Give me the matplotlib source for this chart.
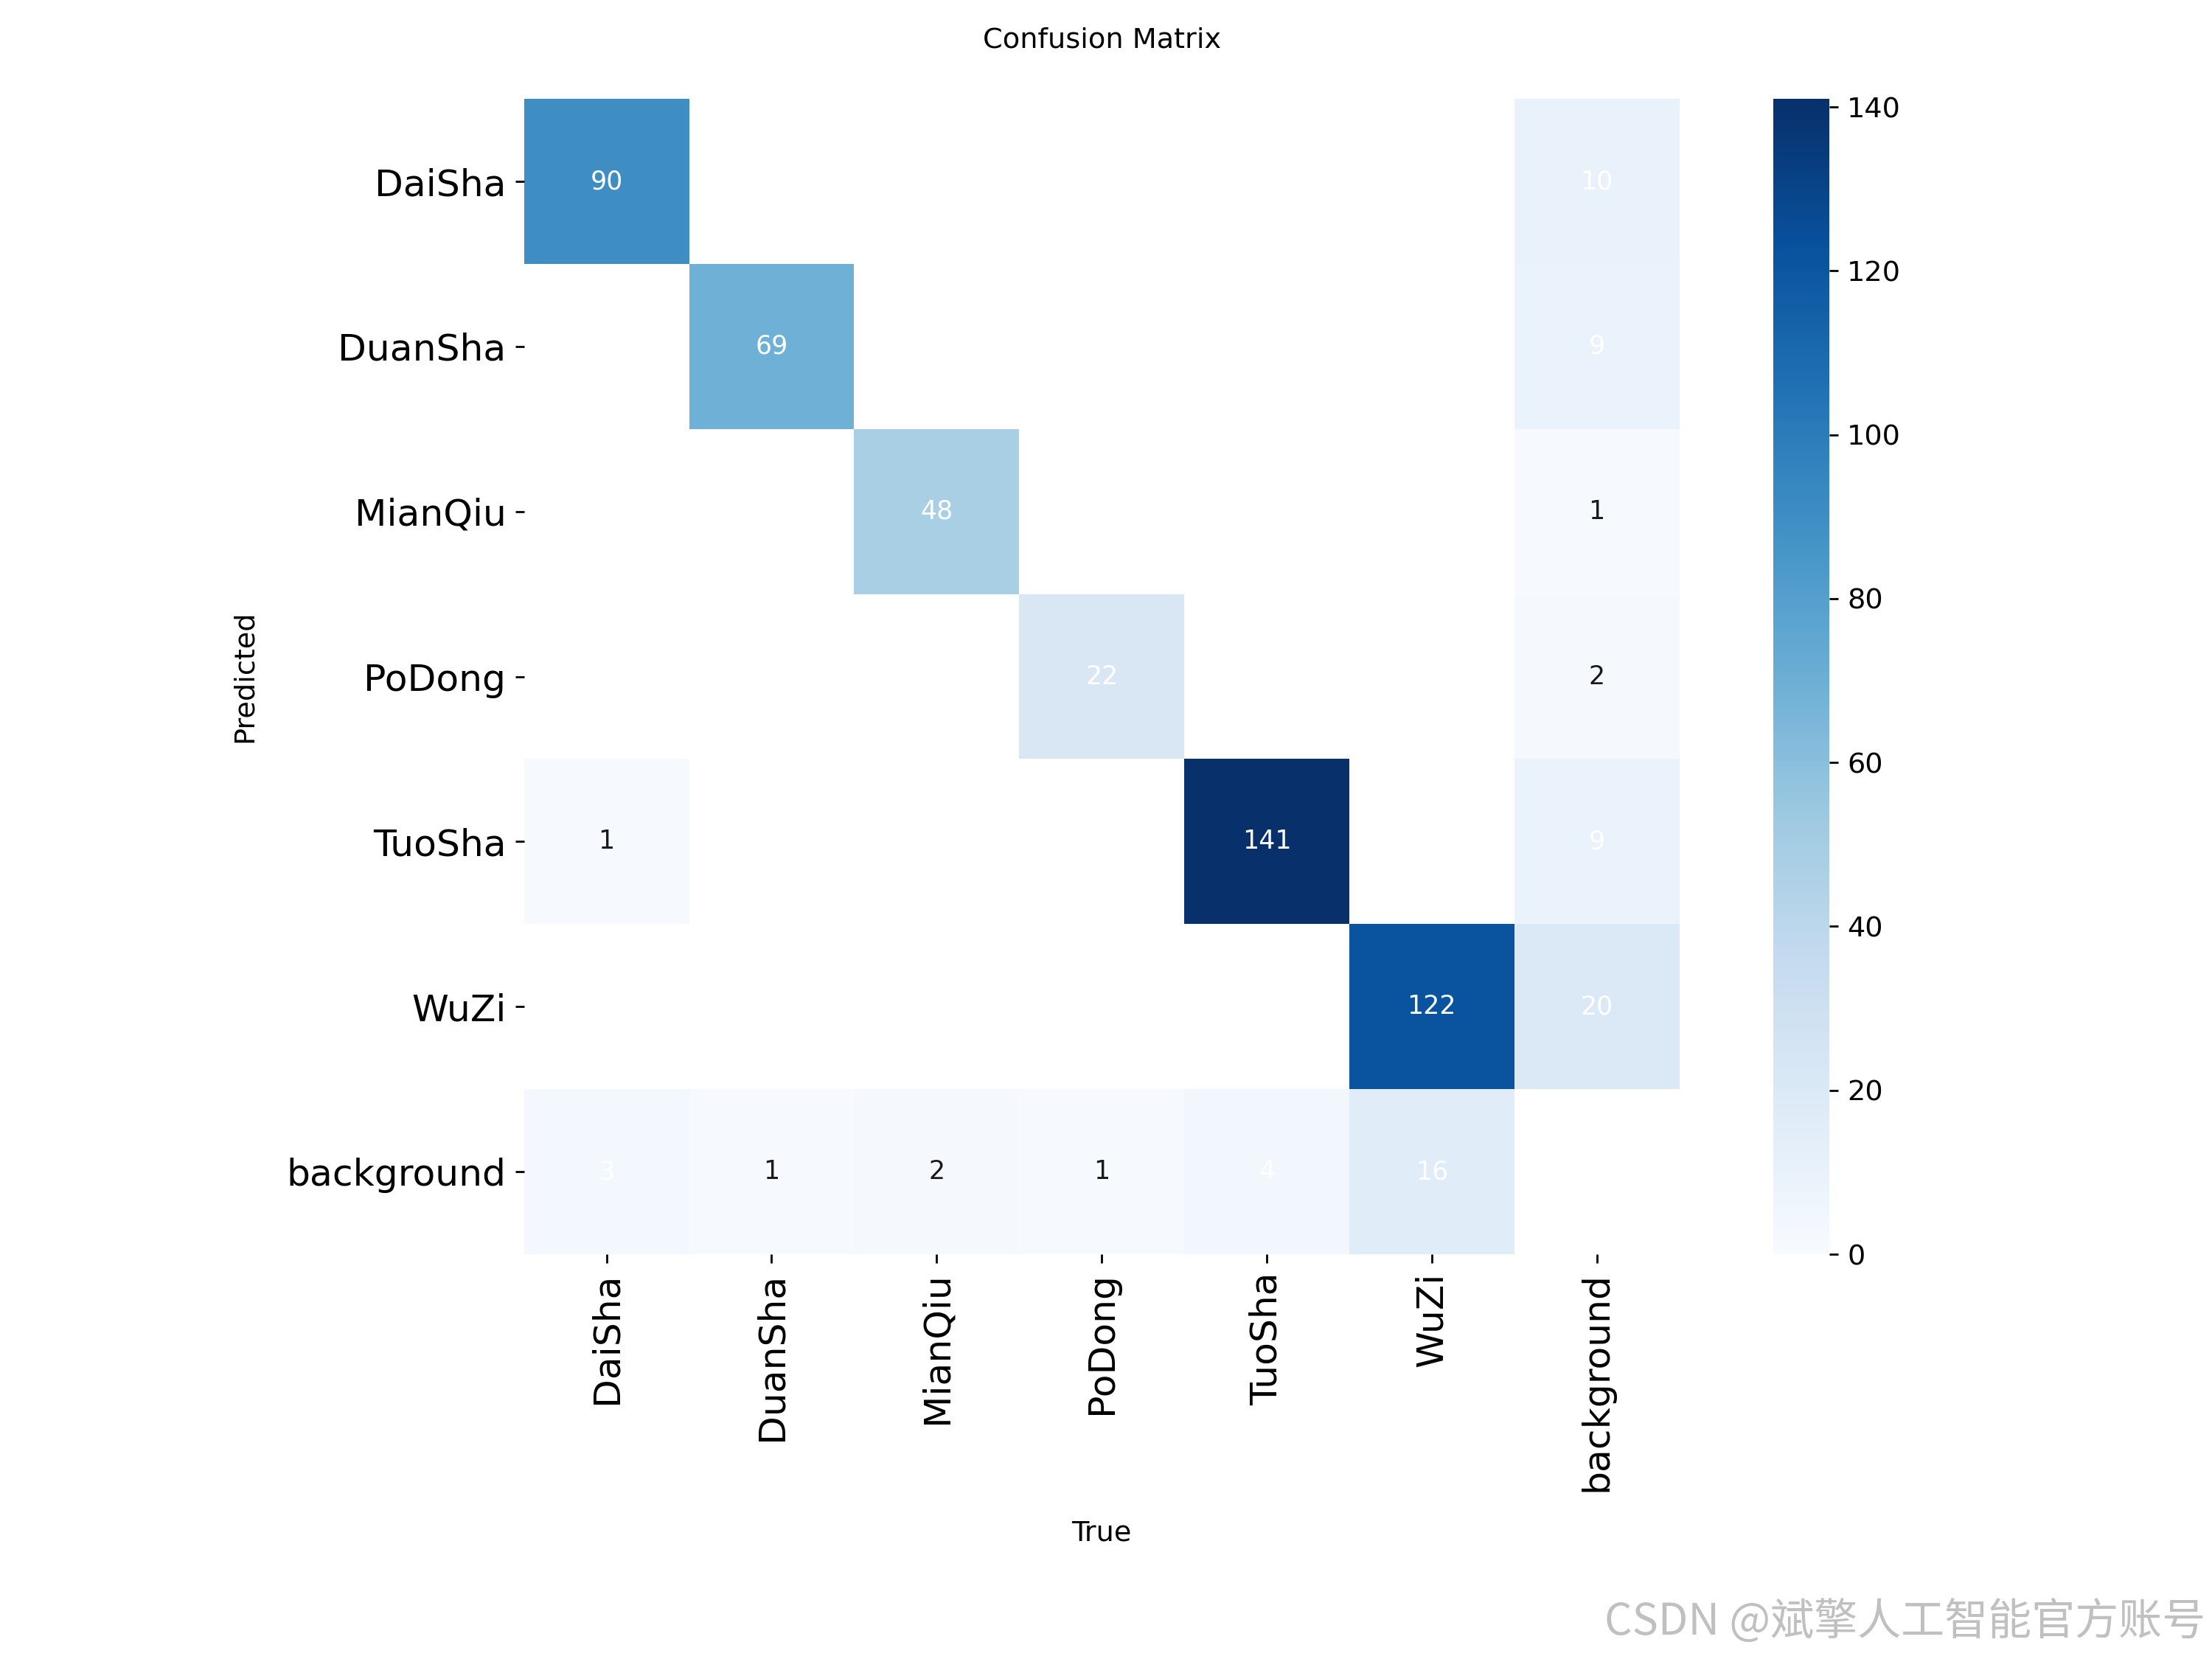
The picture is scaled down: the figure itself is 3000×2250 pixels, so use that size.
import numpy as np
import matplotlib
matplotlib.use('Agg')
import matplotlib.pyplot as plt
import seaborn as sns

labels = ['DaiSha', 'DuanSha', 'MianQiu', 'PoDong', 'TuoSha', 'WuZi', 'background']

# rows = predicted, columns = true (0 = empty cell)
row_daisha = [90, 0, 0, 0, 0, 0, 10]
row_duansha = [0, 69, 0, 0, 0, 0, 9]
row_mianqiu = [0, 0, 48, 0, 0, 0, 1]
row_podong = [0, 0, 0, 22, 0, 0, 2]
row_tuosha = [1, 0, 0, 0, 141, 0, 9]
row_wuzi = [0, 0, 0, 0, 0, 122, 20]
row_background = [3, 1, 2, 1, 4, 16, 0]

# 1 = annotation drawn in white, as in the original picture
white_daisha = [1, 0, 0, 0, 0, 0, 1]
white_duansha = [0, 1, 0, 0, 0, 0, 1]
white_mianqiu = [0, 0, 1, 0, 0, 0, 0]
white_podong = [0, 0, 0, 1, 0, 0, 0]
white_tuosha = [0, 0, 0, 0, 1, 0, 1]
white_wuzi = [0, 0, 0, 0, 0, 1, 1]
white_background = [1, 0, 0, 0, 1, 1, 0]

array = np.array([row_daisha, row_duansha, row_mianqiu, row_podong,
                  row_tuosha, row_wuzi, row_background], dtype=float)
white = np.array([white_daisha, white_duansha, white_mianqiu, white_podong,
                  white_tuosha, white_wuzi, white_background])
array[array < 0.005] = np.nan

plt.rcParams['font.family'] = ['DejaVu Sans']

fig = plt.figure(figsize=(12, 9))
ax = fig.add_axes([0.2367, 0.244, 0.5227, 0.6964])
cax = fig.add_axes([0.8017, 0.244, 0.0253, 0.6964])

sns.heatmap(array, ax=ax, cbar_ax=cax, annot=False, cmap='Blues',
            square=True, vmin=0.0, xticklabels=labels, yticklabels=labels)
ax.set_facecolor((1, 1, 1))
ax.grid(False)

for i in range(array.shape[0]):
    for j in range(array.shape[1]):
        if not np.isnan(array[i, j]):
            ax.text(j + 0.5, i + 0.5, '%.0f' % array[i, j], ha='center', va='center',
                    fontsize=10, color='w' if white[i, j] else '.1')

ax.set_xticklabels(labels, rotation=90, fontsize=14.5)
ax.set_yticklabels(labels, rotation=0, fontsize=14.5, va='center_baseline')
ax.set_xlabel('True', fontsize=11, labelpad=11)
ax.set_ylabel('Predicted', fontsize=11, labelpad=11)
ax.set_title('Confusion Matrix', fontsize=11, pad=20)

cax.tick_params(labelsize=11)
cax.set_yticks([0, 20, 40, 60, 80, 100, 120, 140])

fig.text(0.997, 0.022, 'CSDN @斌擎人工智能官方账号', ha='right', va='center',
         fontsize=17, color='#c0c0c0', weight='medium',
         family=['Noto Sans CJK SC', 'DejaVu Sans'])

fig.savefig('out.png', dpi=250)
